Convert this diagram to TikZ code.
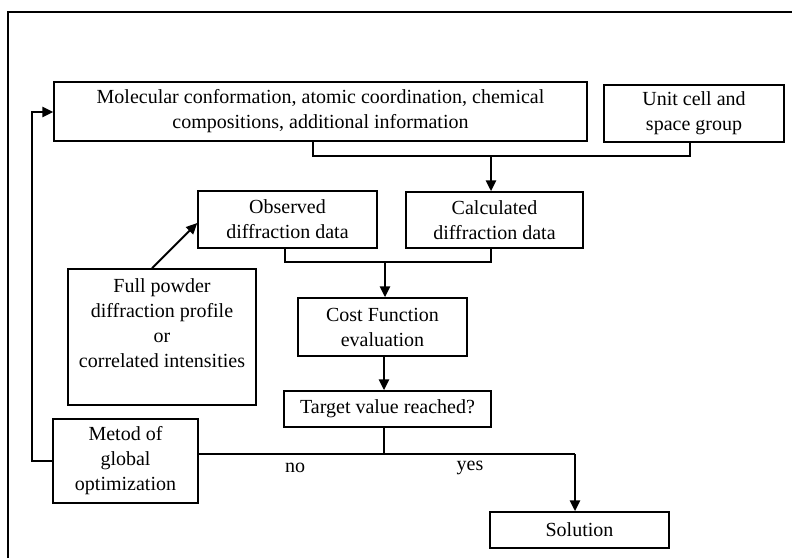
\documentclass[tikz,border=0pt]{standalone}
\usepackage{fontspec}
\setmainfont{Liberation Serif}
\usetikzlibrary{arrows.meta}
\begin{document}
\begin{tikzpicture}[x=1pt,y=-1pt,
  box/.style={draw,line width=1.5pt,align=center,inner sep=0pt,
    font=\fontsize{20}{25}\selectfont},
  conn/.style={line width=2.6pt},
  arr/.style={conn,-{Triangle[length=11pt,width=10pt]}},
  lbl/.style={font=\fontsize{20}{25}\selectfont,inner sep=0pt}]
\useasboundingbox (0,0) rectangle (792,559);
% frame
\draw[line width=1.2pt] (8,558) -- (8,12) -- (792,12);
% nodes
\node[box,minimum width=533pt,minimum height=59pt] (main) at (320.5,111.5)
  {Molecular conformation, atomic coordination, chemical\\compositions, additional information};
\node[box,minimum width=180pt,minimum height=57pt] (unit) at (694,113.5)
  {Unit cell and\\space group};
\node[box,minimum width=179pt,minimum height=57pt] (obs) at (287.5,219.5)
  {Observed\\diffraction data};
\node[box,minimum width=177pt,minimum height=56pt] (calc) at (494.5,220)
  {Calculated\\diffraction data};
\node[box,minimum width=169pt,minimum height=58pt] (cost) at (382.5,327)
  {Cost Function\\evaluation};
\node[box,minimum width=207pt,minimum height=36pt] (target) at (387.5,409)
  {Target value reached?};
\node[box,minimum width=188pt,minimum height=136pt] (full) at (162,337) {};
\node[lbl,align=center,anchor=north] (fulltxt) at (162,278)
  {Full powder\\diffraction profile\\or\\correlated intensities};
\node[box,minimum width=145pt,minimum height=84pt] (metod) at (125.5,461)
  {Metod of\\global\\optimization};
\node[box,minimum width=179pt,minimum height=36pt] (sol) at (579.5,530)
  {Solution};
\node[lbl] (no) at (295,468) {no};
\node[lbl] (yes) at (470,468) {yes};
% junction coordinates
\coordinate (j1) at (491,156);
\coordinate (j2) at (385,262);
\coordinate (j3) at (384,454);
\coordinate (j4) at (575,454);
\coordinate (j5) at (32,461);
% connectors
\draw[conn] (main.south -| 313,0) |- (j1) -| (unit.south -| 690,0);
\draw[arr] (j1) -- (j1 |- calc.north);
\draw[conn] (obs.south -| 285,0) |- (j2) -| (calc.south -| 491,0);
\draw[arr] (j2) -- (j2 |- cost.north);
\draw[arr] (cost.south -| 384,0) -- (target.north -| 384,0);
\draw[conn] (target.south -| j3) -- (j3);
\draw[conn] (metod.east |- j3) -- (j4);
\draw[arr] (j4) -- (j4 |- sol.north);
\draw[arr] (metod.west |- j5) -- (j5) |- (main.west |- 0,112);
\draw[conn,line width=2pt,-{Triangle[length=11pt,width=10pt]}] (full.north -| 152,0) -- (obs.west |- 0,223);
\end{tikzpicture}
\end{document}
